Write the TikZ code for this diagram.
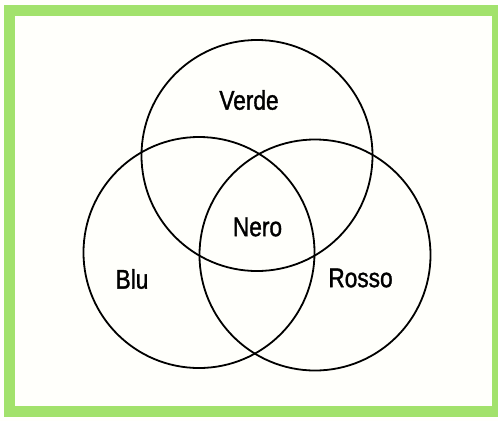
\documentclass[tikz,border=0pt]{standalone}
\usepackage{fontspec}
\setsansfont{Liberation Sans}[FakeStretch=0.84,FakeBold=1.3]
\usepackage{tikz}
\definecolor{FrameGreen}{HTML}{A2E26C}
\definecolor{PaperWhite}{HTML}{FFFFFB}

\begin{document}
\begin{tikzpicture}[x=1pt,y=-1pt]
  \tikzstyle{setcircle}=[draw=black,line width=1.8pt,circle,
    minimum size=231pt,inner sep=0pt]
  \tikzstyle{setlabel}=[inner sep=0pt,
    font=\sffamily\fontsize{27}{30}\selectfont]
  \useasboundingbox (0,0) rectangle (498,421);
  \fill[PaperWhite] (0,0) rectangle (498,421);
  \draw[FrameGreen,line width=11pt] (9.5,10) rectangle (497.5,411.5);
  % the three colour sets
  \node[setcircle] (verde) at (257,155.5) {};
  \node[setcircle] (blu) at (199,252.5) {};
  \node[setcircle] (rosso) at (315,255) {};
  % labels
  \node[setlabel] (lverde) at (249,100) {Verde};
  \node[setlabel] (lnero) at (257.5,227) {Nero};
  \node[setlabel] (lblu) at (132,279) {Blu};
  \node[setlabel] (lrosso) at (360.5,278) {Rosso};
\end{tikzpicture}
\end{document}
